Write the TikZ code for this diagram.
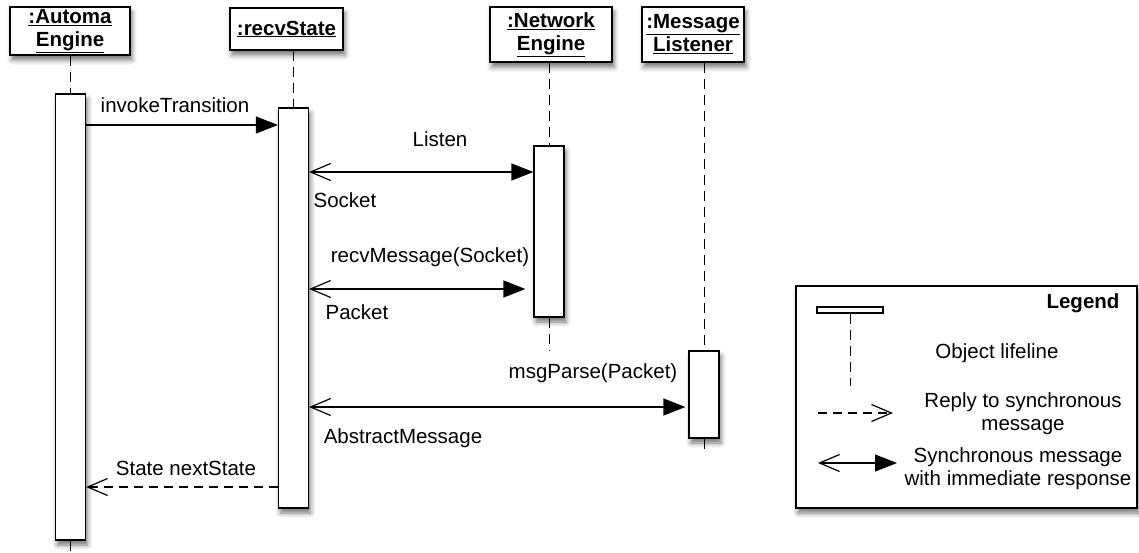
\documentclass[tikz,border=0pt]{standalone}
\usepackage{fontspec}
\setmainfont{Liberation Sans}
\usetikzlibrary{arrows.meta,shadows.blur}

\begin{document}
\begin{tikzpicture}[x=1pt, y=-1pt, line width=1.2pt,
		font=\fontsize{20.5}{23}\selectfont,
		shade/.style={blur shadow={shadow xshift=2pt, shadow yshift=-5pt, shadow blur radius=5pt, shadow opacity=55}},
		objbox/.style={draw, fill=white, align=center, inner sep=0pt, font=\fontsize{20.5}{23}\selectfont\bfseries, shade},
		actbar/.style={draw, fill=white, minimum width=30pt, inner sep=0pt, shade},
		lifeline/.style={dash pattern=on 10pt off 6pt, line width=1pt},
		sync/.style={{Straight Barb[length=20pt,width=17pt,line width=1.2pt]}-{Triangle[length=22pt,width=17pt]}},
		call/.style={-{Triangle[length=22pt,width=17pt]}},
		reply/.style={-{Straight Barb[length=20pt,width=17pt,line width=1.2pt]}, dash pattern=on 9pt off 6pt},
		lbl/.style={inner sep=0pt}]
	\useasboundingbox (0,0) rectangle (1139,553);

	% object heads
	\draw (70, 31) 	node[objbox, minimum width=120pt, minimum height=48pt] 	(autoHead) 	{\underline{:Automa}\\\underline{Engine}};
	\draw (286.5, 29) 	node[objbox, minimum width=113pt, minimum height=42pt] 	(recvHead) 	{\underline{:recvState}};
	\draw (551, 34.5) 	node[objbox, minimum width=122pt, minimum height=55pt] 	(netHead) 	{\underline{:Network}\\\underline{Engine}};
	\draw (693, 34.5) 	node[objbox, minimum width=102pt, minimum height=55pt] 	(lisHead) 	{\underline{:Message}\\\underline{Listener}};

	% activation bars
	\draw (70.5, 317) 	node[actbar, minimum height=446pt] 	(autoAct) 	{};
	\draw (293.5, 308) 	node[actbar, minimum height=400pt] 	(recvAct) 	{};
	\draw (549, 231.5) 	node[actbar, minimum height=171pt] 	(netAct) 	{};
	\draw (704, 394.5) 	node[actbar, minimum height=87pt] 	(lisAct) 	{};
	\coordinate (autoEnd) at (70.5, 556);
	\coordinate (netEnd) at (549, 350);
	\coordinate (lisEnd) at (704, 451);

	% lifelines
	\draw[lifeline] (autoAct.north |- autoHead.south) -- (autoAct.north);
	\draw[lifeline] (autoAct.south) -- (autoEnd);
	\draw[lifeline] (recvAct.north |- recvHead.south) -- (recvAct.north);
	\draw[lifeline] (netAct.north |- netHead.south) -- (netAct.north);
	\draw[lifeline] (netAct.south) -- (netEnd);
	\draw[lifeline] (lisAct.north |- lisHead.south) -- (lisAct.north);
	\draw[lifeline] (lisAct.south) -- (lisEnd);

	% messages
	\draw[call] (autoAct.east |- 0,125) -- (recvAct.west |- 0,125);
	\draw[sync] (recvAct.east |- 0,172) -- (netAct.west |- 0,172);
	\draw[sync, shorten >=8pt] (recvAct.east |- 0,289) -- (netAct.west |- 0,289);
	\draw[sync, shorten >=3pt] (recvAct.east |- 0,407) -- (lisAct.west |- 0,407);
	\draw[reply] (recvAct.west |- 0,487) -- (autoAct.east |- 0,487);

	% message labels
	\draw (175, 105) 	node[lbl] 	(invokeLbl) 	{invokeTransition};
	\draw (440, 139) 	node[lbl] 	(listenLbl) 	{Listen};
	\draw (345, 200) 	node[lbl] 	(socketLbl) 	{Socket};
	\draw (430, 257) 	node[lbl] 	(recvLbl) 	{recvMessage(Socket)};
	\draw (357, 312) 	node[lbl] 	(packetLbl) 	{Packet};
	\draw (593, 373) 	node[lbl] 	(parseLbl) 	{msgParse(Packet)};
	\draw (403, 438) 	node[lbl] 	(abstractLbl) 	{AbstractMessage};
	\draw (186, 468) 	node[lbl] 	(stateLbl) 	{State nextState};

	% legend
	\draw (966.5, 397) 	node[draw, fill=white, minimum width=341pt, minimum height=222pt, shade] 	(legend) 	{};
	\draw (1083, 303) 	node[lbl, font=\fontsize{20.5}{23}\selectfont\bfseries] 	(legendLbl) 	{Legend};
	\draw (850, 310) 	node[draw, minimum width=66pt, minimum height=6pt, inner sep=0pt] 	(legBar) 	{};
	\coordinate (legBarEnd) at (850, 386);
	\draw[lifeline] (legBar.south) -- (legBarEnd);
	\draw (997, 353) 	node[lbl] 	(lifeLbl) 	{Object lifeline};
	\coordinate (legReplyA) at (818, 413);
	\coordinate (legReplyB) at (893, 413);
	\draw[reply] (legReplyA) -- (legReplyB);
	\draw (1023, 414) 	node[lbl, align=center] 	(replyLbl) 	{Reply to synchronous\\message};
	\coordinate (legSyncA) at (818, 463);
	\coordinate (legSyncB) at (897, 463);
	\draw[sync] (legSyncA) -- (legSyncB);
	\draw (1018, 469) 	node[lbl, align=center] 	(syncLbl) 	{Synchronous message\\with immediate response};
\end{tikzpicture}
\end{document}
